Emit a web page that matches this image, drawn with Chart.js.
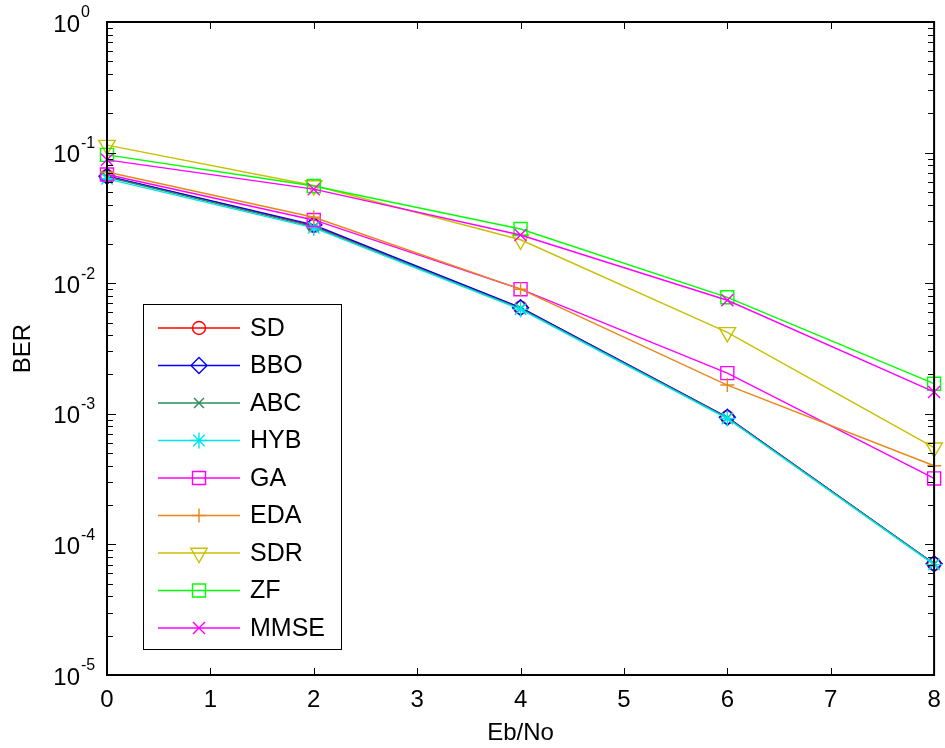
<!DOCTYPE html>
<html>
<head>
<meta charset="utf-8">
<script src="https://cdn.jsdelivr.net/npm/chart.js@4/dist/chart.umd.min.js"></script>
<style>
  html, body { margin: 0; padding: 0; background: #fff; }
  #wrap { width: 945px; height: 748px; }
</style>
</head>
<body>
<div id="wrap"><canvas id="berChart" width="945" height="748"></canvas></div>
<script>
// Eb/No points
const ebno = [0, 2, 4, 6, 8];

// BER per detector
const sd   = [0.066, 0.0275, 0.0065, 0.00094, 0.000071];
const bbo  = [0.066, 0.028, 0.0065, 0.00094, 0.000071];
const abc  = [0.065, 0.027, 0.0064, 0.00093, 0.000071];
const hyb  = [0.063, 0.0265, 0.0063, 0.00092, 0.00007];
const ga   = [0.068, 0.0305, 0.009, 0.00205, 0.00032];
const eda  = [0.071, 0.032, 0.009, 0.00166, 0.0004];
const sdr  = [0.114, 0.056, 0.0215, 0.0042, 0.00055];
const zf   = [0.096, 0.0555, 0.026, 0.0078, 0.0017];
const mmse = [0.088, 0.0525, 0.0234, 0.0074, 0.00147];

const seriesNames = ['SD', 'BBO', 'ABC', 'HYB', 'GA', 'EDA', 'SDR', 'ZF', 'MMSE'];
const seriesData = [sd, bbo, abc, hyb, ga, eda, sdr, zf, mmse];
const seriesColors = ['#ff0000', '#0000ff', '#2e8b57', '#00e5ee', '#ff00ff',
                      '#e8861a', '#c8c000', '#00ff00', '#ff00ff'];
const markerStyles = ['circle', 'rectRot', 'crossRot', 'star', 'rect',
                      'cross', 'triangle', 'rect', 'crossRot'];
const markerSizes = [6.5, 8, 7, 8, 9.2, 7, 9.5, 9.2, 8.5];
const markerTurn = [0, 0, 0, 0, 0, 0, 180, 0, 0];

const yDecades = [0, -1, -2, -3, -4, -5];

const FONT = 'Arial, "Liberation Sans", sans-serif';

const datasets = seriesNames.map((name, i) => ({
    label: name,
    data: ebno.map((x, j) => ({ x: x, y: seriesData[i][j] })),
    borderColor: seriesColors[i],
    backgroundColor: 'rgba(0,0,0,0)',
    borderWidth: 1.4,
    pointStyle: markerStyles[i],
    pointRadius: markerSizes[i],
    pointRotation: markerTurn[i],
    pointBorderColor: seriesColors[i],
    pointBackgroundColor: 'rgba(0,0,0,0)',
    pointBorderWidth: 1.4,
    pointHoverRadius: markerSizes[i],
    tension: 0,
    clip: false,
    order: -i
}));

// box, inward tick marks, y tick labels with exponents, axis title
const matlabAxes = {
    id: 'matlabAxes',
    afterDatasetsDraw(chart) {
        const ctx = chart.ctx;
        const a = chart.chartArea;
        const xs = chart.scales.x;
        const ys = chart.scales.y;
        ctx.save();
        ctx.strokeStyle = '#000';
        ctx.lineWidth = 1;
        ctx.beginPath();
        for (let v = 0; v <= 8; v++) {
            const px = Math.round(xs.getPixelForValue(v)) + 0.5;
            ctx.moveTo(px, a.bottom); ctx.lineTo(px, a.bottom - 7);
            ctx.moveTo(px, a.top); ctx.lineTo(px, a.top + 7);
        }
        yDecades.forEach(k => {
            for (let m = 1; m <= 9; m++) {
                if (k === 0 && m > 1) break;
                const py = Math.round(ys.getPixelForValue(m * Math.pow(10, k))) + 0.5;
                const len = m === 1 ? 9 : 6;
                ctx.moveTo(a.left, py); ctx.lineTo(a.left + len, py);
                ctx.moveTo(a.right, py); ctx.lineTo(a.right - len, py);
            }
        });
        ctx.stroke();

        ctx.lineWidth = 2;
        ctx.strokeRect(a.left, a.top, a.right - a.left, a.bottom - a.top);

        ctx.fillStyle = '#000';
        ctx.textBaseline = 'middle';
        yDecades.forEach(k => {
            const py = ys.getPixelForValue(Math.pow(10, k));
            ctx.font = '24px ' + FONT;
            ctx.textAlign = 'right';
            ctx.fillText('10', 80, py + 3);
            ctx.font = '16px ' + FONT;
            ctx.textAlign = 'left';
            ctx.fillText(String(k), 81, py - 9);
        });

        ctx.save();
        ctx.translate(23, (a.top + a.bottom) / 2);
        ctx.rotate(-Math.PI / 2);
        ctx.font = '24px ' + FONT;
        ctx.textAlign = 'center';
        ctx.fillText('BER', 0, 0);
        ctx.restore();
        ctx.restore();
    }
};

// legend box inside the axes, line + marker sample per series
const insideLegend = {
    id: 'insideLegend',
    afterDraw(chart) {
        const ctx = chart.ctx;
        const bx = 143, by = 304, bw = 198, bh = 345;
        const rowH = 37.5, firstRow = 328;
        ctx.save();
        ctx.fillStyle = '#fff';
        ctx.fillRect(bx, by, bw, bh);
        ctx.strokeStyle = '#000';
        ctx.lineWidth = 1;
        ctx.strokeRect(bx + 0.5, by + 0.5, bw, bh);
        seriesNames.forEach((name, i) => {
            const y = firstRow + i * rowH;
            ctx.strokeStyle = seriesColors[i];
            ctx.lineWidth = 1.4;
            ctx.beginPath();
            ctx.moveTo(158, y);
            ctx.lineTo(240, y);
            ctx.stroke();
            ctx.fillStyle = 'rgba(0,0,0,0)';
            Chart.helpers.drawPoint(ctx, {
                pointStyle: markerStyles[i],
                radius: markerSizes[i],
                rotation: markerTurn[i],
                borderWidth: 1.4
            }, 199, y);
            ctx.fillStyle = '#000';
            ctx.font = '25px ' + FONT;
            ctx.textAlign = 'left';
            ctx.textBaseline = 'middle';
            ctx.fillText(name, 250, y + 1);
        });
        ctx.restore();
    }
};

new Chart(document.getElementById('berChart').getContext('2d'), {
    type: 'line',
    data: { datasets: datasets },
    options: {
        responsive: false,
        animation: false,
        events: [],
        layout: { padding: { left: 0, top: 22, right: 8, bottom: 0 } },
        plugins: {
            legend: { display: false },
            tooltip: { enabled: false }
        },
        scales: {
            x: {
                type: 'linear',
                min: 0,
                max: 8,
                grid: { display: false },
                border: { display: false },
                ticks: {
                    stepSize: 1,
                    color: '#000',
                    padding: 3,
                    font: { family: FONT, size: 24 }
                },
                title: {
                    display: true,
                    text: 'Eb/No',
                    color: '#000',
                    padding: { top: 0, bottom: 0 },
                    font: { family: FONT, size: 24 }
                },
                afterFit(scale) {
                    scale.height = 73;
                    scale.paddingLeft = 0;
                    scale.paddingRight = 0;
                }
            },
            y: {
                type: 'logarithmic',
                min: 1e-5,
                max: 1,
                grid: { display: false },
                border: { display: false },
                ticks: { display: false },
                afterFit(scale) { scale.width = 107; }
            }
        }
    },
    plugins: [matlabAxes, insideLegend]
});
</script>
</body>
</html>
